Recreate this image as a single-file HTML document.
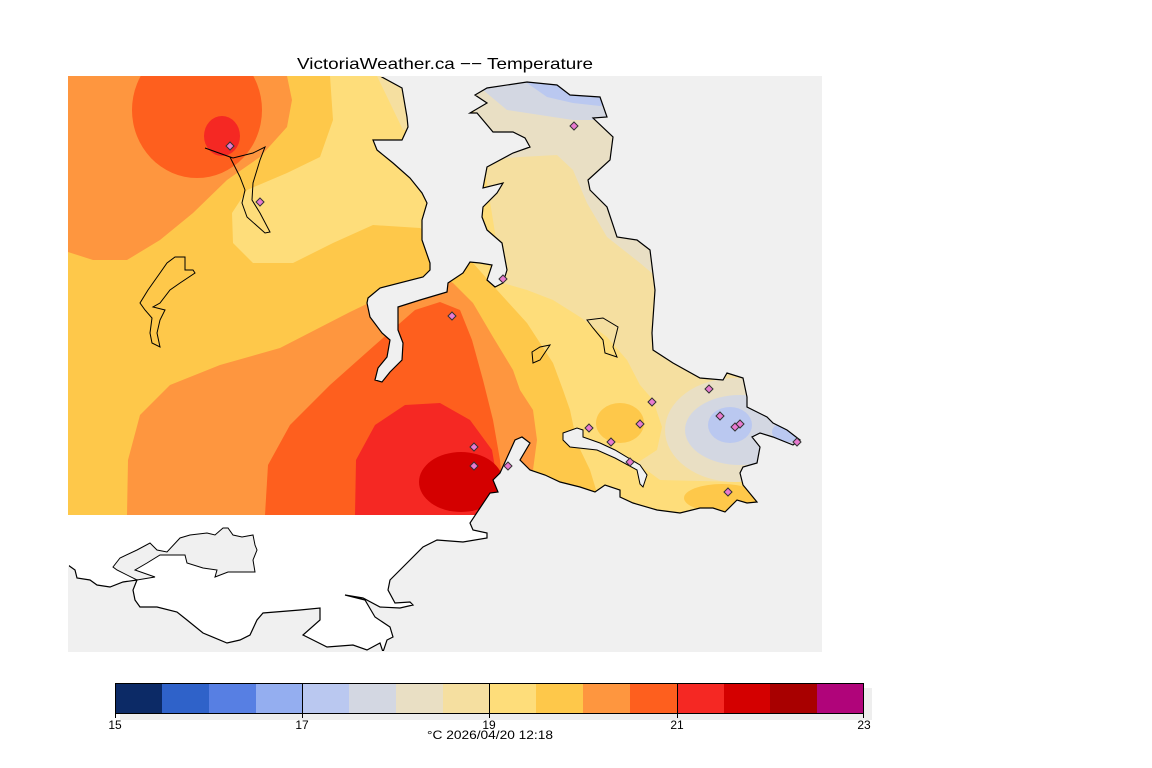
<!DOCTYPE html>
<html><head><meta charset="utf-8"><style>
html,body{margin:0;padding:0;background:#fff;}
svg{display:block;}
text{font-family:"Liberation Sans",sans-serif;}
</style></head><body>
<svg width="1152" height="768" viewBox="0 0 1152 768" xmlns="http://www.w3.org/2000/svg">
<defs>
<clipPath id="top"><rect x="68" y="76" width="754" height="439"/></clipPath>
<clipPath id="bot"><rect x="68" y="515" width="754" height="137"/></clipPath>
<clipPath id="inner"><rect x="69" y="77" width="752" height="574"/></clipPath>
<clipPath id="land"><polygon id="landp" points="68,76 380,76 402,88 407,117 408,127 402,140 373,140 377,150 393,163 410,178 422,193 427,203 422,220 422,240 430,263 430,270 423,277 380,288 368,298 367,303 370,317 382,333 390,340 387,357 378,368 375,380 382,382 390,372 402,360 403,343 398,330 398,307 420,300 447,292 448,283 463,273 470,262 480,263 492,265 487,280 495,287 503,283 507,270 502,243 487,230 482,217 483,207 497,193 503,183 483,188 487,167 513,153 530,147 525,138 513,132 493,132 477,113 470,113 487,103 475,95 487,88 527,82 557,85 570,95 600,97 607,117 593,118 613,137 610,160 588,180 590,190 607,207 617,237 637,240 650,250 655,290 652,333 653,350 673,363 700,378 723,380 727,373 743,378 747,397 747,407 767,417 773,423 787,430 800,440 793,445 773,437 760,433 752,437 760,447 757,463 743,467 740,473 743,485 757,502 747,503 737,500 725,512 713,508 700,508 680,513 657,510 633,503 620,497 620,490 605,485 595,492 580,487 560,482 545,475 530,470 520,460 530,443 522,437 515,440 500,473 493,480 498,492 490,493 470,523 473,530 487,533 487,538 463,542 437,540 423,547 407,563 390,580 388,590 395,603 410,602 413,605 400,608 380,607 363,598 345,595 365,600 375,617 390,627 393,637 387,640 383,652 380,643 367,650 353,645 327,647 313,640 303,635 320,620 320,608 300,610 263,613 257,620 250,635 240,640 227,643 203,633 187,620 177,612 157,607 140,607 135,600 133,590 137,580 123,582 110,587 97,585 90,580 77,578 75,570 68,565"/></clipPath>
</defs>
<rect x="68" y="76" width="754" height="576" fill="#f0f0f0"/>
<g clip-path="url(#bot)"><g clip-path="url(#land)"><rect x="68" y="515" width="754" height="137" fill="#fff"/></g></g>
<g clip-path="url(#top)"><g clip-path="url(#land)">
<rect x="68" y="76" width="754" height="439" fill="#fec84a"/>
<path d="M68,76 L287,76 L292,100 L287,127 L260,157 L227,180 L193,213 L160,240 L127,260 L93,260 L68,252 Z" fill="#fe963f"/>
<ellipse cx="197" cy="110" rx="65" ry="68" fill="#fe5f1e"/>
<ellipse cx="222" cy="136" rx="18" ry="20" fill="#f52823"/>
<path d="M330,76 L333,120 L320,157 L287,173 L247,190 L232,213 L233,243 L253,263 L293,263 L333,243 L373,225 L420,228 L440,240 L440,76 Z" fill="#fedd7a"/>
<path d="M377,76 L403,130 L420,130 L420,76 Z" fill="#f5dfa0"/>
<path d="M127,515 L128,460 L140,415 L170,385 L220,365 L280,348 L350,312 L400,288 L432,272 L453,283 L473,303 L493,337 L513,370 L520,390 L533,410 L537,440 L533,470 L520,515 Z" fill="#fe963f"/>
<path d="M265,515 L268,465 L290,425 L330,385 L375,345 L415,310 L440,302 L460,310 L472,340 L483,380 L493,420 L500,460 L505,515 Z" fill="#fe5f1e"/>
<path d="M355,515 L356,460 L375,425 L405,405 L440,403 L470,420 L492,450 L498,485 L495,515 Z" fill="#f52823"/>
<ellipse cx="461" cy="482" rx="42" ry="30" fill="#d40000"/>
<path d="M473,263 L497,290 L527,323 L553,363 L563,390 L570,410 L577,443 L590,470 L597,493 L600,515 L822,515 L822,76 L470,76 Z" fill="#fedd7a"/>
<path d="M503,283 L527,290 L553,300 L580,317 L607,337 L627,360 L640,385 L653,400 L662,427 L657,450 L637,463 L660,480 L740,482 L822,470 L822,76 L470,76 Z" fill="#f5dfa0"/>
<path d="M480,160 L520,157 L557,155 L573,170 L587,203 L607,237 L640,263 L660,280 L822,300 L822,76 L470,76 Z" fill="#e9dfc4"/>
<path d="M470,76 L483,90 L507,110 L540,115 L573,120 L607,120 L640,120 L640,76 Z" fill="#d3d7e2"/>
<path d="M520,76 L527,83 L547,97 L573,103 L600,106 L620,100 L620,76 Z" fill="#bac8f0"/>
<ellipse cx="620" cy="423" rx="24" ry="20" fill="#fec84a"/>
<ellipse cx="722" cy="498" rx="38" ry="14" fill="#fec84a"/>
<ellipse cx="735" cy="430" rx="70" ry="52" fill="#e9dfc4"/>
<ellipse cx="740" cy="430" rx="55" ry="35" fill="#d3d7e2"/>
<path d="M740,420 L800,425 L810,440 L790,455 L760,450 Z" fill="#d3d7e2"/>
<ellipse cx="730" cy="425" rx="22" ry="18" fill="#bac8f0"/>
<ellipse cx="787" cy="432" rx="15" ry="10" fill="#bac8f0"/>
</g></g>
<polygon points="563,433 577,428 583,430 583,437 600,443 615,450 640,465 647,475 643,487 640,484 637,470 615,458 597,450 570,447 563,440" fill="#f0f0f0" stroke="#000" stroke-width="1"/>
<polygon points="117,570 113,567 120,558 137,550 150,543 157,550 167,552 180,538 190,535 207,533 215,535 223,528 228,528 233,535 242,537 253,535 255,545 257,550 253,560 255,572 228,572 215,577 217,570 203,568 187,563 185,555 160,555 147,563 135,570 155,577 137,580" fill="#f0f0f0" stroke="#000" stroke-width="1"/>
<g clip-path="url(#inner)"><use href="#landp" fill="none" stroke="#000" stroke-width="1.2"/></g>
<g fill="none" stroke="#000" stroke-width="1">
<polygon points="175,257 185,257 185,270 193,270 195,273 180,283 170,290 160,303 153,307 165,310 160,320 157,333 160,347 152,343 150,333 152,318 145,310 140,303 148,290 160,273 167,263"/>
<polygon points="205,148 233,158 253,153 265,147 260,160 253,183 252,200 260,213 270,232 265,233 247,217 242,203 245,190 240,177 230,157"/>
<polygon points="587,320 603,318 618,327 613,347 617,357 605,353 603,340 593,328"/>
<polygon points="532,352 540,347 550,345 540,360 533,363"/>
</g>
<g fill="#e87ad0" stroke="#333" stroke-width="1">
<path transform="translate(230,146)" d="M0,-4 L4,0 L0,4 L-4,0 Z"/>
<path transform="translate(260,202)" d="M0,-4 L4,0 L0,4 L-4,0 Z"/>
<path transform="translate(574,126)" d="M0,-4 L4,0 L0,4 L-4,0 Z"/>
<path transform="translate(503,279)" d="M0,-4 L4,0 L0,4 L-4,0 Z"/>
<path transform="translate(452,316)" d="M0,-4 L4,0 L0,4 L-4,0 Z"/>
<path transform="translate(709,389)" d="M0,-4 L4,0 L0,4 L-4,0 Z"/>
<path transform="translate(652,402)" d="M0,-4 L4,0 L0,4 L-4,0 Z"/>
<path transform="translate(720,416)" d="M0,-4 L4,0 L0,4 L-4,0 Z"/>
<path transform="translate(735,427)" d="M0,-4 L4,0 L0,4 L-4,0 Z"/>
<path transform="translate(740,424)" d="M0,-4 L4,0 L0,4 L-4,0 Z"/>
<path transform="translate(797,442)" d="M0,-4 L4,0 L0,4 L-4,0 Z"/>
<path transform="translate(640,424)" d="M0,-4 L4,0 L0,4 L-4,0 Z"/>
<path transform="translate(589,428)" d="M0,-4 L4,0 L0,4 L-4,0 Z"/>
<path transform="translate(611,442)" d="M0,-4 L4,0 L0,4 L-4,0 Z"/>
<path transform="translate(474,447)" d="M0,-4 L4,0 L0,4 L-4,0 Z"/>
<path transform="translate(474,466)" d="M0,-4 L4,0 L0,4 L-4,0 Z"/>
<path transform="translate(508,466)" d="M0,-4 L4,0 L0,4 L-4,0 Z"/>
<path transform="translate(728,492)" d="M0,-4 L4,0 L0,4 L-4,0 Z"/>
<path transform="translate(630,462)" d="M0,-4 L4,0 L0,4 L-4,0 Z"/>
</g>
<text x="297" y="69" font-size="16" textLength="296" lengthAdjust="spacingAndGlyphs" fill="#000">VictoriaWeather.ca −− Temperature</text>
<rect x="120" y="688" width="752" height="32" fill="#eeeeee"/>
<g>
<rect x="115" y="683" width="47" height="30" fill="#0c2a66"/>
<rect x="162" y="683" width="47" height="30" fill="#2f62c9"/>
<rect x="209" y="683" width="47" height="30" fill="#577fe3"/>
<rect x="256" y="683" width="47" height="30" fill="#94aef0"/>
<rect x="302" y="683" width="47" height="30" fill="#bac8f0"/>
<rect x="349" y="683" width="47" height="30" fill="#d3d7e2"/>
<rect x="396" y="683" width="47" height="30" fill="#e9dfc4"/>
<rect x="443" y="683" width="47" height="30" fill="#f5dfa0"/>
<rect x="489" y="683" width="47" height="30" fill="#fedd7a"/>
<rect x="536" y="683" width="47" height="30" fill="#fec84a"/>
<rect x="583" y="683" width="47" height="30" fill="#fe963f"/>
<rect x="630" y="683" width="47" height="30" fill="#fe5f1e"/>
<rect x="677" y="683" width="47" height="30" fill="#f52823"/>
<rect x="724" y="683" width="47" height="30" fill="#d40000"/>
<rect x="770" y="683" width="47" height="30" fill="#a80000"/>
<rect x="817" y="683" width="47" height="30" fill="#b0047a"/>
</g>
<rect x="115.5" y="683.5" width="748" height="30" fill="none" stroke="#000" stroke-width="1"/>
<g stroke="#000" stroke-width="1">
<line x1="302.5" y1="683" x2="302.5" y2="718"/>
<line x1="489.5" y1="683" x2="489.5" y2="718"/>
<line x1="677.5" y1="683" x2="677.5" y2="718"/>
<line x1="115.5" y1="713" x2="115.5" y2="718"/>
<line x1="863.5" y1="713" x2="863.5" y2="718"/>
</g>
<g font-size="12" text-anchor="middle" fill="#000">
<text x="115" y="729">15</text>
<text x="302" y="729">17</text>
<text x="489" y="729">19</text>
<text x="677" y="729">21</text>
<text x="864" y="729">23</text>
<text x="490" y="739" textLength="126" lengthAdjust="spacingAndGlyphs">°C  2026/04/20 12:18</text>
</g>
</svg>
</body></html>
